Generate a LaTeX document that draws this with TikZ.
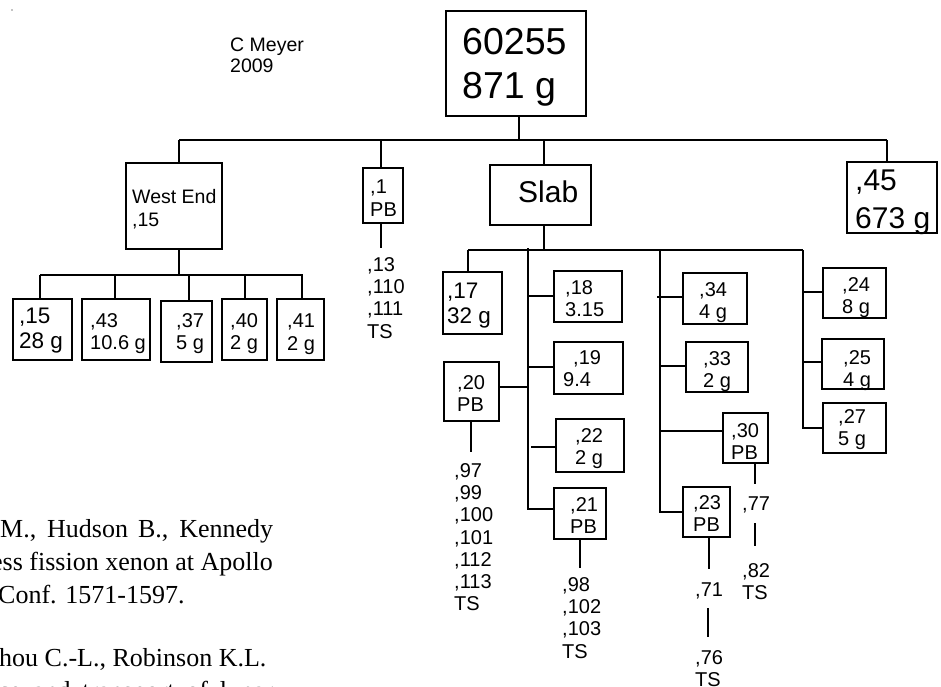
\documentclass[tikz,border=0pt]{standalone}
\usepackage{fontspec}
\setmainfont{Liberation Sans}
\newfontfamily\bibfont{Liberation Serif}
\newcommand\fxl{\fontsize{37.5}{44}\selectfont}
\newcommand\fl{\fontsize{30}{38}\selectfont}
\newcommand\fm{\fontsize{22.5}{25}\selectfont}
\newcommand\fa{\fontsize{20}{22.3}\selectfont}
\newcommand\fb{\fontsize{19.5}{21}\selectfont}
\newcommand\fw{\fontsize{19.5}{23}\selectfont}
\newcommand\fr{\bibfont\fontsize{26}{30}\selectfont}
\newcommand\boxat[5]{\node[bx, minimum width={#4-#2}, minimum height={#5-#3}] (#1) at ({(#2+#4)/2},{(#3+#5)/2}) {};}
\newcommand\txtat[5]{\node[tx, font=#4] (#1) at (#2,#3) {#5};}
\begin{document}
\begin{tikzpicture}[x=1pt,y=-1pt,
  bx/.style={draw, line width=1.4pt, inner sep=0pt},
  tx/.style={inner sep=0pt, align=left, anchor=north west},
  ln/.style={line width=1.4pt},
  bib/.style={inner sep=0pt, font=\fr}]
\clip (0,0) rectangle (941,686);
\fill[white] (0,0) rectangle (941,686);
\fill (12,10) circle (0.7);
% boxes
\boxat{top}{446}{11}{586}{116}
\boxat{west}{126}{163}{222}{249}
\boxat{p1}{363}{168}{403}{223}
\boxat{slab}{490}{165}{591}{225}
\boxat{b45}{847}{162}{937}{233}
\boxat{b15}{13}{299}{72}{360}
\boxat{b43}{82}{299}{150}{360}
\boxat{b37}{161}{301}{212}{362}
\boxat{b40}{222}{299}{267}{360}
\boxat{b41}{277}{299}{324}{360}
\boxat{b17}{443}{272}{502}{334}
\boxat{b20}{444}{362}{499}{421}
\boxat{b18}{554}{271}{622}{322}
\boxat{b19}{554}{342}{623}{394}
\boxat{b22}{556}{419}{624}{472}
\boxat{b21}{554}{488}{606}{539}
\boxat{b34}{683}{273}{747}{324}
\boxat{b33}{686}{342}{748}{392}
\boxat{b30}{723}{413}{768}{463}
\boxat{b23}{683}{487}{730}{537}
\boxat{b24}{823}{268}{886}{318}
\boxat{b25}{822}{339}{884}{389}
\boxat{b27}{823}{403}{886}{453}
% texts
\txtat{ttop}{462}{28}{\fxl}{60255\\871 g}
\txtat{tcm}{230}{38}{\fb}{C Meyer\\2009}
\txtat{twest}{132}{189}{\fw}{West End\\,15}
\txtat{tp1}{370}{180}{\fa}{,1\\PB}
\txtat{tl1}{367}{257}{\fa}{,13\\,110\\,111\\TS}
\txtat{tslab}{518}{181}{\fl}{Slab}
\txtat{t45}{855}{170}{\fl}{,45\\673 g}
\txtat{t15}{19}{308}{\fm}{,15\\28 g}
\txtat{t43}{90}{313}{\fa}{,43\\10.6 g}
\txtat{t37}{176}{313}{\fa}{,37\\5 g}
\txtat{t40}{230}{313}{\fa}{,40\\2 g}
\txtat{t41}{287}{314}{\fa}{,41\\2 g}
\txtat{t17}{447}{283}{\fm}{,17\\32 g}
\txtat{t20}{457}{375}{\fa}{,20\\PB}
\txtat{tl20}{454}{463}{\fa}{,97\\,99\\,100\\,101\\,112\\,113\\TS}
\txtat{t18}{565}{280}{\fa}{,18\\3.15}
\txtat{t19}{563}{350}{\fa}{\hspace*{10pt},19\\9.4}
\txtat{t22}{575}{428}{\fa}{,22\\2 g}
\txtat{t21}{570}{497}{\fa}{,21\\PB}
\txtat{tl21}{562}{577}{\fa}{,98\\,102\\,103\\TS}
\txtat{t34}{699}{282}{\fa}{,34\\4 g}
\txtat{t33}{703}{351}{\fa}{,33\\2 g}
\txtat{t30}{731}{423}{\fa}{,30\\PB}
\txtat{t77}{742}{497}{\fa}{,77}
\txtat{t82}{742}{563}{\fa}{,82\\TS}
\txtat{t23}{693}{495}{\fa}{,23\\PB}
\txtat{t71}{695}{583}{\fa}{,71}
\txtat{t76}{695}{650}{\fa}{,76\\TS}
\txtat{t24}{842}{277}{\fa}{,24\\8 g}
\txtat{t25}{843}{350}{\fa}{,25\\4 g}
\txtat{t27}{838}{409}{\fa}{,27\\5 g}
% main level
\coordinate (m0) at (519,140);
\coordinate (mL) at (179,140);
\coordinate (mR) at (887,140);
\coordinate (m1) at (381,140);
\coordinate (m2) at (544,140);
\draw[ln] (top.south -| m0) -- (m0);
\draw[ln] (mL) -- (mR);
\draw[ln] (mL) -- (west.north -| mL);
\draw[ln] (m1) -- (p1.north -| m1);
\draw[ln] (m2) -- (slab.north -| m2);
\draw[ln] (mR) -- (b45.north -| mR);
\coordinate (l1) at (381,248);
\draw[ln] (p1.south -| l1) -- (l1);
% west end
\coordinate (w0) at (179,275);
\coordinate (wL) at (40,275);
\coordinate (wR) at (303,275);
\coordinate (w2) at (115,275);
\coordinate (w3) at (189,275);
\coordinate (w4) at (245,275);
\coordinate (w5) at (302,275);
\draw[ln] (west.south -| w0) -- (w0);
\draw[ln] (wL) -- (wR);
\draw[ln] (wL) -- (b15.north -| wL);
\draw[ln] (w2) -- (b43.north -| w2);
\draw[ln] (w3) -- (b37.north -| w3);
\draw[ln] (w4) -- (b40.north -| w4);
\draw[ln] (w5) -- (b41.north -| w5);
% slab
\coordinate (s0) at (544,250);
\coordinate (sL) at (468,250);
\coordinate (sR) at (803,250);
\coordinate (s1) at (528,248);
\coordinate (s2) at (660,250);
\draw[ln] (slab.south -| s0) -- (s0);
\draw[ln] (sL) -- (sR);
\draw[ln] (sL) -- (b17.north -| sL);
% column 1
\coordinate (s1b) at (528,509);
\coordinate (s1c) at (528,387);
\coordinate (c18) at (528,296);
\coordinate (c19) at (528,367);
\coordinate (c22) at (531,447);
\draw[ln] (s1) -- (s1b) -- (b21.west |- s1b);
\draw[ln] (b20.east |- s1c) -- (s1c);
\draw[ln] (c18) -- (b18.west |- c18);
\draw[ln] (c19) -- (b19.west |- c19);
\draw[ln] (c22) -- (b22.west |- c22);
\coordinate (l20) at (471,452);
\draw[ln] (b20.south -| l20) -- (l20);
\coordinate (l21) at (580,568);
\draw[ln] (b21.south -| l21) -- (l21);
% column 2
\coordinate (s2b) at (660,512);
\coordinate (c34) at (657,297);
\coordinate (c33) at (660,366);
\coordinate (c30) at (660,431);
\draw[ln] (s2) -- (s2b) -- (b23.west |- s2b);
\draw[ln] (c34) -- (b34.west |- c34);
\draw[ln] (c33) -- (b33.west |- c33);
\draw[ln] (c30) -- (b30.west |- c30);
\coordinate (l30a) at (755,484);
\coordinate (l30b) at (755,523);
\coordinate (l30c) at (755,546);
\draw[ln] (b30.south -| l30a) -- (l30a);
\draw[ln] (l30b) -- (l30c);
\coordinate (l23a) at (709,569);
\coordinate (l23b) at (708,608);
\coordinate (l23c) at (708,637);
\draw[ln] (b23.south -| l23a) -- (l23a);
\draw[ln] (l23b) -- (l23c);
% column 3
\coordinate (sRb) at (803,428);
\coordinate (c24) at (803,292);
\coordinate (c25) at (802,362);
\draw[ln] (sR) -- (sRb) -- (b27.west |- sRb);
\draw[ln] (c24) -- (b24.west |- c24);
\draw[ln] (c25) -- (b25.west |- c25);
% reference text
\node[bib, anchor=base west] (r1) at (0,537) {\makebox[273pt][s]{M., Hudson B., Kennedy}};
\node[bib, anchor=base east] (r2) at (273,570) {ess fission xenon at Apollo};
\node[bib, anchor=base west] (r3) at (-2,603) {Conf. 1571-1597.};
\node[bib, anchor=base west] (r4) at (-1,666) {hou C.-L., Robinson K.L.};
\node[bib, anchor=base west] (r5) at (-2,699) {\makebox[275pt][s]{ce and transport of lunar}};
\end{tikzpicture}
\end{document}
